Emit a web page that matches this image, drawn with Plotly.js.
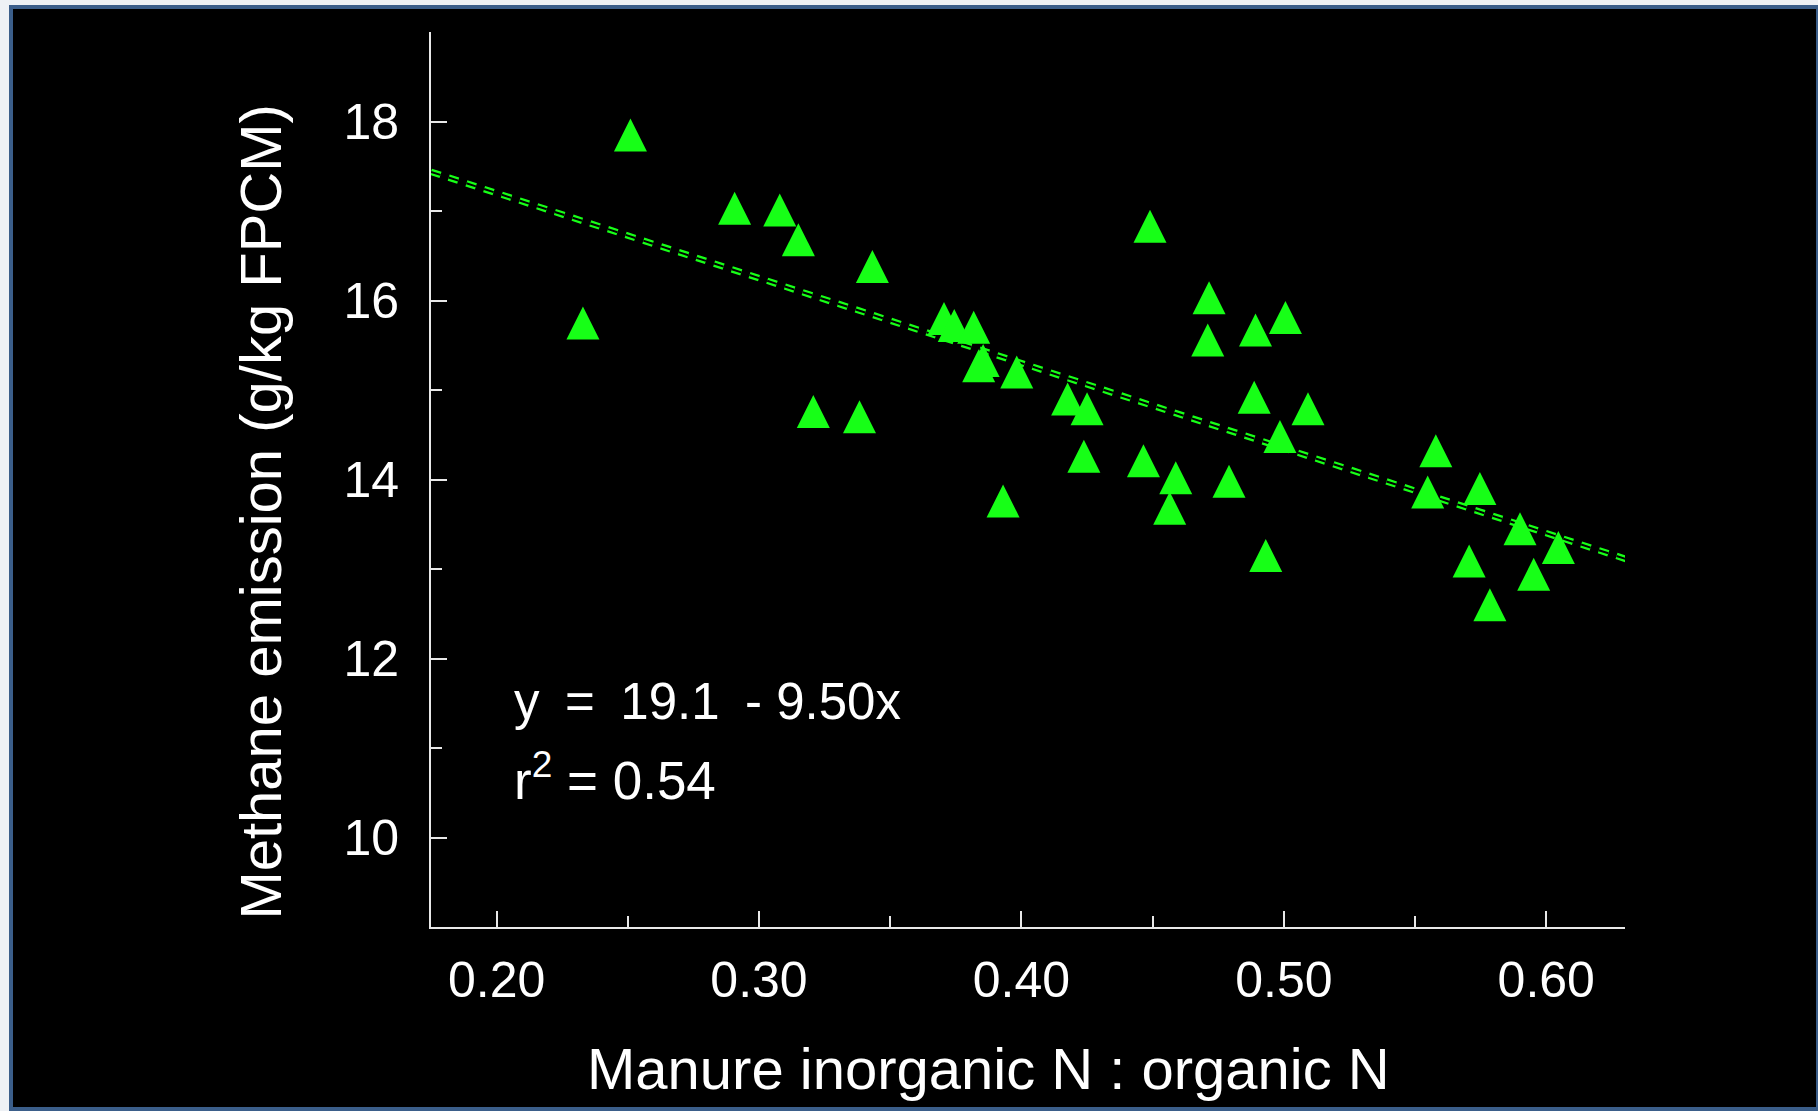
<!DOCTYPE html>
<html>
<head>
<meta charset="utf-8">
<script src="https://cdn.plot.ly/plotly-3.0.1.min.js"></script>
<style>
  html, body { margin: 0; padding: 0; background: #000; }
  #wrap { position: relative; width: 1818px; height: 1111px; }
  #chart { position: absolute; left: 0; top: 0; width: 1818px; height: 1111px; }
  #frame {
    position: absolute; left: 0; top: 0; width: 1818px; height: 1111px;
    box-sizing: border-box; pointer-events: none;
    border-top: 5px solid #eef1f5; border-left: 9px solid #eef1f5;
  }
  #frame > div {
    width: 100%; height: 100%; box-sizing: border-box;
    border: 4px solid #3b5e8a; border-right-width: 2px;
  }
</style>
</head>
<body>
<div id="wrap">
  <div id="chart"></div>
  <div id="frame"><div></div></div>
</div>
<script>
// Manure inorganic N : organic N ratio for each observation
const ratioN = [
  0.2329, 0.2510, 0.2907, 0.3079, 0.3150, 0.3207, 0.3383, 0.3432,
  0.3705, 0.3744, 0.3818, 0.3837, 0.3854, 0.3930, 0.3982, 0.4176,
  0.4238, 0.4250, 0.4465, 0.4490, 0.4565, 0.4588, 0.4710, 0.4715,
  0.4791, 0.4887, 0.4892, 0.4931, 0.4985, 0.5006, 0.5092, 0.5548,
  0.5579, 0.5706, 0.5747, 0.5785, 0.5900, 0.5952, 0.6046
];
// Methane emission, g/kg FPCM
const methane = [
  15.75, 17.85, 17.03, 17.01, 16.68, 14.76, 14.70, 16.38,
  15.80, 15.72, 15.70, 15.27, 15.33, 13.76, 15.20, 14.90,
  14.26, 14.79, 14.21, 16.83, 13.68, 14.02, 15.56, 16.03,
  13.98, 14.92, 15.67, 13.15, 14.48, 15.81, 14.79, 13.86,
  14.32, 13.09, 13.90, 12.60, 13.45, 12.94, 13.24
];
// Linear fit: y = 19.1 - 9.50x, r^2 = 0.54
const fitIntercept = 19.1;
const fitSlope = -9.50;
const fitR2 = 0.54;
const fitXExtent = [0.175, 0.633];

const xTicks = [0.20, 0.30, 0.40, 0.50, 0.60];
const xTickLabels = ['0.20', '0.30', '0.40', '0.50', '0.60'];
const xMinorTicks = [0.25, 0.35, 0.45, 0.55];
const yTicks = [10, 12, 14, 16, 18];
const yTickLabels = ['10', '12', '14', '16', '18'];
const yMinorTicks = [11, 13, 15, 17];

const xRange = [0.175, 0.630];
const yRange = [9, 19];

const W = 1818, H = 1111;
const M = { l: 431, r: 193, t: 32, b: 184 };
const plotH = H - M.t - M.b;

const green = '#17ff17';
const axisColor = '#e8e8e8';
const FONT = '"Liberation Sans", Arial, Helvetica, sans-serif';

// The arrow-up symbol has its apex on the data point; a hidden overlay axis
// lifts it by half its height so the triangle is centred on the value.
const markerSize = 33;
const unitsPerPx = (yRange[1] - yRange[0]) / plotH;
const lift = (markerSize / 2) * unitsPerPx;

const fitY = fitXExtent.map(x => fitIntercept + fitSlope * x);
const fitDash = '10px,8.6px';

const traces = [
  {
    x: fitXExtent, y: fitY, mode: 'lines', type: 'scatter',
    line: { color: green, width: 6.5, dash: fitDash },
    hoverinfo: 'skip', showlegend: false
  },
  {
    x: fitXExtent, y: fitY, mode: 'lines', type: 'scatter',
    line: { color: '#000', width: 2, dash: fitDash },
    hoverinfo: 'skip', showlegend: false
  },
  {
    x: ratioN, y: methane, mode: 'markers', type: 'scatter', yaxis: 'y2',
    marker: { symbol: 'arrow-up', size: markerSize, color: green, line: { width: 0 } },
    cliponaxis: false, showlegend: false
  }
];

const axisCommon = {
  showgrid: false, zeroline: false,
  showline: true, linecolor: axisColor, linewidth: 2,
  ticks: 'inside', tickcolor: axisColor, tickwidth: 2, ticklen: 16,
  tickfont: { family: FONT, size: 50, color: '#fff' }
};

const layout = {
  width: W, height: H,
  margin: M,
  paper_bgcolor: '#000', plot_bgcolor: '#000',
  showlegend: false,
  xaxis: Object.assign({}, axisCommon, {
    range: xRange, tickmode: 'array', tickvals: xTicks, ticktext: xTickLabels,
    ticklabelstandoff: 8,
    minor: { tickmode: 'array', tickvals: xMinorTicks, ticks: 'inside', ticklen: 11, tickwidth: 2, tickcolor: axisColor }
  }),
  yaxis: Object.assign({}, axisCommon, {
    range: yRange, tickmode: 'array', tickvals: yTicks, ticktext: yTickLabels,
    ticklabelstandoff: 20,
    minor: { tickmode: 'array', tickvals: yMinorTicks, ticks: 'inside', ticklen: 11, tickwidth: 2, tickcolor: axisColor }
  }),
  yaxis2: {
    overlaying: 'y', range: [yRange[0] - lift, yRange[1] - lift],
    visible: false, showgrid: false, zeroline: false
  },
  annotations: [
    {
      text: 'Manure inorganic N : organic N',
      xref: 'paper', yref: 'paper', x: 0.4673, y: -0.158,
      xanchor: 'center', yanchor: 'middle', showarrow: false,
      font: { family: FONT, size: 58, color: '#fff' }
    },
    {
      text: 'Methane emission (g/kg FPCM)',
      xref: 'paper', yref: 'paper', x: -0.1424, y: 0.4641, textangle: -90,
      xanchor: 'center', yanchor: 'middle', showarrow: false,
      font: { family: FONT, size: 58, color: '#fff' }
    },
    {
      text: 'y\u2002=\u2002' + fitIntercept.toFixed(1) + '\u2002-\u00a0' + Math.abs(fitSlope).toFixed(2) + 'x',
      xref: 'paper', yref: 'paper', x: 0.0695, y: 0.2201,
      xanchor: 'left', yanchor: 'bottom', showarrow: false,
      borderpad: 0, borderwidth: 0,
      font: { family: FONT, size: 51, color: '#fff' }
    },
    {
      text: 'r<sup>2</sup>\u00a0=\u00a0' + fitR2.toFixed(2),
      xref: 'paper', yref: 'paper', x: 0.0695, y: 0.1308,
      xanchor: 'left', yanchor: 'bottom', showarrow: false,
      borderpad: 0, borderwidth: 0,
      font: { family: FONT, size: 53, color: '#fff' }
    }
  ]
};

Plotly.newPlot('chart', traces, layout, { displayModeBar: false, responsive: false });
</script>
</body>
</html>
